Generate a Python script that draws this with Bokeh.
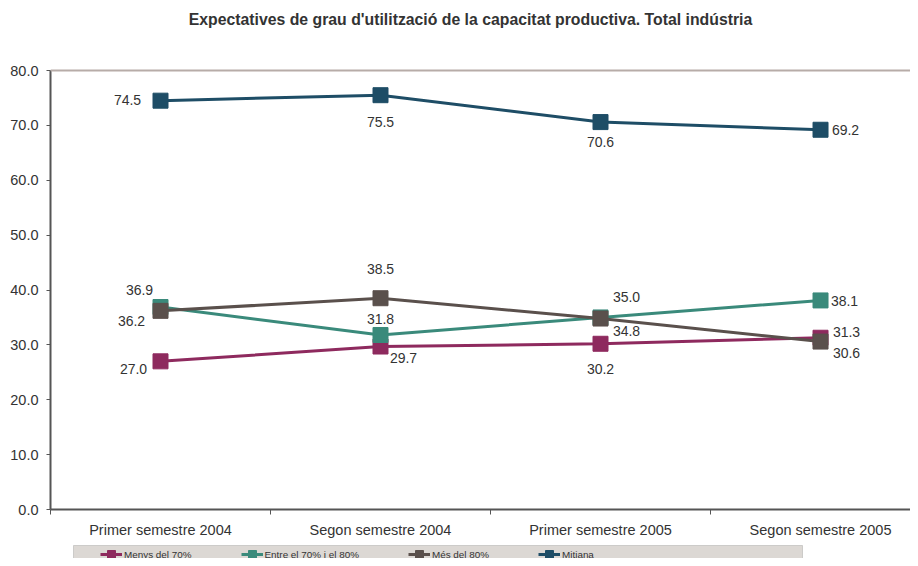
from bokeh.plotting import figure
from bokeh.layouts import column
from bokeh.models import (Range1d, FixedTicker, Span, Label, Legend, LegendItem,
                          ColumnDataSource, BoxAnnotation)
from bokeh.embed import file_html
from bokeh.resources import INLINE
from bokeh.core.properties import value

# ---- data ----
categories = ["Primer semestre 2004", "Segon semestre 2004", "Primer semestre 2005", "Segon semestre 2005"]
menys_70 = [27.0, 29.7, 30.2, 31.3]
entre_70_80 = [36.9, 31.8, 35.0, 38.1]
mes_80 = [36.2, 38.5, 34.8, 30.6]
mitjana = [74.5, 75.5, 70.6, 69.2]
y_ticks = [0, 10, 20, 30, 40, 50, 60, 70, 80]
series_names = ["Menys del 70%", "Entre el 70% i el 80%", "Més del 80%", "Mitjana"]
title_text = "Expectatives de grau d'utilització de la capacitat productiva. Total indústria"

# ---- styles / label placement (screen px) ----
colors = ["#8e2a5e", "#3a8a7b", "#5a504c", "#1e4d66"]
label_dx = [[-27, 23, 0, 26], [-21, 0, 26, 24], [-29, 0, 26, 26], [-33, 0, 0, 25]]
label_dy = [[8, 11, 25, -6], [-17, -16, -20, 1], [10, -29, 12, 11], [-1, 27, 20, 0]]

FONT = "Liberation Sans"
TXT = "#333333"
AXC = "#555555"
Y_TOP = 80 * 509 / 439.0   # extra headroom above the 80 line holds the title

p = figure(width=910, height=544, output_backend="svg", toolbar_location=None,
           x_range=Range1d(-0.5, 3.409), y_range=Range1d(0, Y_TOP),
           min_border_left=50, min_border_right=0, min_border_top=0, min_border_bottom=35)
p.outline_line_color = None
p.xgrid.visible = False
p.ygrid.visible = False
p.background_fill_color = "white"
p.border_fill_color = "white"

xs = list(range(len(categories)))
all_vals = [menys_70, entre_70_80, mes_80, mitjana]
for i, vals in enumerate(all_vals):
    src = ColumnDataSource(dict(x=xs, y=vals, t=["%.1f" % v for v in vals],
                                dx=label_dx[i], dy=label_dy[i]))
    p.line("x", "y", source=src, line_color=colors[i], line_width=3)
    p.scatter("x", "y", source=src, marker="square", size=15, fill_color=colors[i],
              line_color=colors[i])
    p.text("x", "y", text="t", source=src, x_offset="dx", y_offset="dy",
           text_align="center", text_baseline="middle", text_font=value(FONT),
           text_font_size="14px", text_color=TXT)

# top border line at 80
p.add_layout(Span(location=80, dimension="width", line_color="#b7aca8", line_width=2))

# title
p.add_layout(Label(x=1.409, y=80 + 51 / 5.4875, text=title_text, text_align="center",
                   text_baseline="middle", text_font=FONT, text_font_size="15.8px",
                   text_font_style="bold", text_color=TXT))

# axes
xa = p.xaxis[0]
xa.ticker = FixedTicker(ticks=xs, minor_ticks=[-0.5, 0.5, 1.5, 2.5])
xa.major_label_overrides = {i: c for i, c in enumerate(categories)}
xa.major_tick_out = 0
xa.major_tick_in = 0
xa.minor_tick_out = 5
xa.minor_tick_in = 0
xa.minor_tick_line_color = AXC
xa.axis_line_color = AXC
xa.axis_line_width = 2
xa.major_label_standoff = 7
xa.major_label_text_font = FONT
xa.major_label_text_font_size = "14.5px"
xa.major_label_text_color = TXT

ya = p.yaxis[0]
ya.ticker = FixedTicker(ticks=y_ticks, minor_ticks=[])
ya.bounds = (0, 80)
ya.major_label_overrides = {t: "%.1f" % t for t in y_ticks}
ya.major_tick_out = 4
ya.major_tick_in = 0
ya.major_tick_line_color = AXC
ya.axis_line_color = AXC
ya.axis_line_width = 2
ya.major_label_standoff = 8
ya.major_label_text_font = FONT
ya.major_label_text_font_size = "14.5px"
ya.major_label_text_color = TXT

# ---- legend strip (its own small figure so the box can sit below the axis labels) ----
# its frame is aligned with the main frame (starts at x=50), so data units == page px
lg = figure(width=910, height=14, output_backend="svg", toolbar_location=None,
            x_range=Range1d(50, 910), y_range=Range1d(0, 14),
            x_axis_location=None, y_axis_location=None,
            min_border_left=50, min_border_right=0, min_border_top=0, min_border_bottom=0)
lg.outline_line_color = None
lg.xgrid.visible = False
lg.ygrid.visible = False
lg.background_fill_color = "white"
lg.border_fill_color = "white"
lg.add_layout(BoxAnnotation(left=73, right=802, top=13, bottom=-20,
                            fill_color="#dcd8d4", fill_alpha=1,
                            line_color="#808080", line_width=1))
items = []
for i, vals in enumerate(all_vals):
    # same series, drawn outside this strip's visible range: only the legend glyphs show
    l = lg.line(xs, vals, line_color=colors[i], line_width=3)
    s = lg.scatter(xs, vals, marker="square", size=8, fill_color=colors[i], line_color=colors[i])
    items.append(LegendItem(label=series_names[i], renderers=[l, s]))
leg = Legend(items=items, orientation="horizontal", location=(50, -6), margin=0, padding=2,
             spacing=49, glyph_width=22, glyph_height=20, label_standoff=2, label_height=12,
             label_width=0, label_text_font=FONT, label_text_font_size="9.9px",
             label_text_color=TXT, background_fill_alpha=0, border_line_color=None)
lg.add_layout(leg, "center")

open("out.html", "w").write(file_html(column(p, lg, spacing=0), INLINE))
